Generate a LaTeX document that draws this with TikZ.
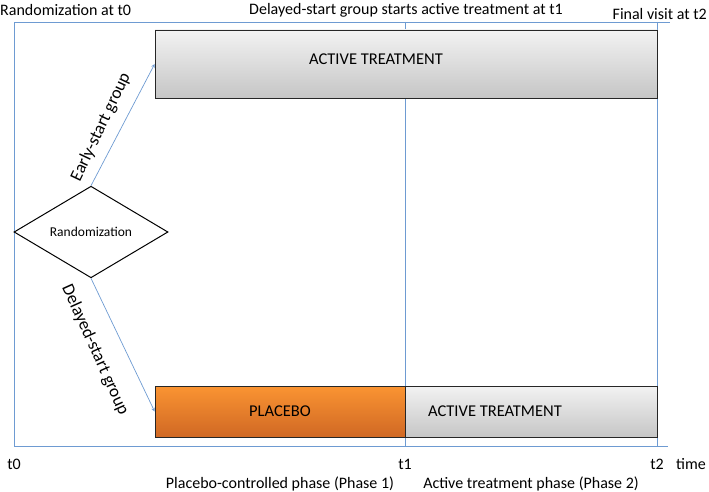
\documentclass[tikz,border=0pt]{standalone}
\usepackage{fontspec}
\setmainfont{Carlito}
\usepackage{tikz}
\usetikzlibrary{shapes.geometric,shadows}
\definecolor{axisblue}{RGB}{110,155,210}
\definecolor{orangetop}{RGB}{250,148,50}
\definecolor{orangebot}{RGB}{208,104,36}
\tikzset{axis/.style={draw=axisblue, line width=0.7pt},
  phasebox/.style={draw=black!85, line width=0.7pt, rectangle, minimum height=51pt, inner sep=0pt, font=\fontsize{16.5}{18}\selectfont, drop shadow={shadow xshift=1pt, shadow yshift=-1.2pt, opacity=0.35}},
  activebox/.style={phasebox, top color=gray!10, bottom color=gray!45},
  placebobox/.style={phasebox, top color=orangetop, bottom color=orangebot},
  grouplabel/.style={font=\fontsize{17.5}{19}\selectfont, inner sep=1pt}}

\begin{document}
\begin{tikzpicture}[x=1pt, y=-1pt, font=\fontsize{16}{18}\selectfont]
      \useasboundingbox (0,0) rectangle (709,492);
      \coordinate (o) at (14,446);
      \coordinate (tl) at (14,22);
      \coordinate (tr) at (670,22);
      \coordinate (br) at (668,446);
      \draw [axis] (o) -- (tl) -- (tr);
      \draw [axis] (o) -- (br);
      \coordinate (t1top) at (405,22);
      \coordinate (t1bot) at (405,446);
      \coordinate (t2top) at (657,22);
      \coordinate (t2bot) at (657,446);
      \draw [axis] (t1top) -- (t1bot);
      \draw [axis] (t2top) -- (t2bot);
      \node [activebox, minimum width=502pt, minimum height=68pt] (early) at (406,64) {};
      \node [font=\fontsize{16.5}{18}\selectfont] (earlytxt) at (376,59) {ACTIVE TREATMENT};
      \node [placebobox, minimum width=250pt] (placebo) at (280,411.5) {PLACEBO};
      \node [activebox, minimum width=252pt] (active) at (531,411.5) {};
      \node [font=\fontsize{16.5}{18}\selectfont] (activetxt) at (495,411.5) {ACTIVE TREATMENT};
      \node [draw, diamond, line width=1pt, minimum width=154pt, minimum height=73pt, inner sep=0pt, fill=white, font=\fontsize{13.5}{15}\selectfont] (dia) at (91,232) {Randomization};
      \draw [axis, -stealth] (dia.north) -- (early.west);
      \draw [axis, -stealth] (dia.south) -- (placebo.west);
      \node [grouplabel, rotate=64.6] (earlylbl) at (101,127) {Early-start group};
      \node [grouplabel, rotate=-65.7] (delaylbl) at (95,350) {Delayed-start group};
      \node [anchor=west, inner sep=0pt] (rand) at (0,10) {Randomization at t0};
      \node [inner sep=0pt] (start) at (406,10) {Delayed-start group starts active treatment at t1};
      \node [anchor=east, inner sep=0pt] (final) at (707,14) {Final visit at t2};
      \node [inner sep=0pt] (lt0) at (14,464) {t0};
      \node [inner sep=0pt] (lt1) at (405,464) {t1};
      \node [inner sep=0pt] (lt2) at (657,464) {t2};
      \node [inner sep=0pt] (time) at (691,464) {time};
      \node [inner sep=0pt] (ph1) at (280,484) {Placebo-controlled phase (Phase 1)};
      \node [inner sep=0pt] (ph2) at (531,484) {Active treatment phase (Phase 2)};
    \end{tikzpicture}
\end{document}
